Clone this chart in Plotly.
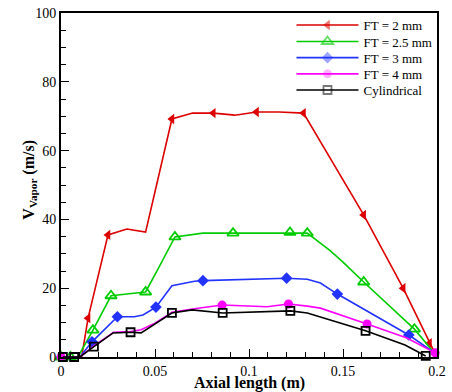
import plotly.graph_objects as go

# ---- data ----
names = ["FT = 2 mm", "FT = 2.5 mm", "FT = 3 mm", "FT = 4 mm", "Cylindrical"]

x_ft2 = [0, 0.005, 0.011, 0.0144, 0.025, 0.035, 0.045, 0.059, 0.070, 0.081, 0.0925, 0.104, 0.116, 0.129, 0.161, 0.182, 0.196, 0.199]
y_ft2 = [0, 0, 0, 11.3, 35.5, 37.2, 36.3, 69.2, 70.9, 70.9, 70.3, 71.2, 71.2, 70.9, 41.3, 20.0, 4.0, 1.0]
m_ft2 = [1, 0, 0, 1, 1, 0, 0, 1, 0, 1, 0, 1, 0, 1, 1, 1, 1, 0]

x_ft25 = [0, 0.005, 0.009, 0.017, 0.0266, 0.035, 0.045, 0.052, 0.0606, 0.0755, 0.0915, 0.1218, 0.131, 0.143, 0.150, 0.161, 0.188, 0.198]
y_ft25 = [0, 0, 0, 7.8, 17.8, 18.3, 18.9, 26.0, 34.9, 36.0, 36.0, 36.2, 36.0, 31.0, 27.6, 21.8, 8.1, 1.5]
m_ft25 = [1, 1, 0, 1, 1, 0, 1, 0, 1, 0, 1, 1, 1, 0, 0, 1, 1, 0]

x_ft3 = [0, 0.010, 0.0165, 0.030, 0.039, 0.0436, 0.0505, 0.059, 0.071, 0.0755, 0.120, 0.131, 0.138, 0.147, 0.185, 0.198]
y_ft3 = [0, 0, 4.4, 11.7, 11.7, 12.2, 14.5, 20.7, 22.0, 22.2, 22.9, 22.6, 21.5, 18.3, 6.4, 1.5]
m_ft3 = [0, 0, 1, 1, 0, 0, 1, 0, 0, 1, 1, 0, 0, 1, 1, 0]

x_ft4 = [0, 0.010, 0.0175, 0.028, 0.037, 0.0426, 0.050, 0.059, 0.069, 0.0857, 0.1096, 0.121, 0.131, 0.138, 0.1628, 0.184, 0.199]
y_ft4 = [0, 0, 3.2, 7.2, 7.4, 7.9, 9.8, 13.0, 13.9, 15.1, 14.6, 15.4, 14.8, 14.2, 9.6, 5.5, 1.2]
m_ft4 = [1, 0, 0, 0, 0, 0, 0, 0, 0, 1, 0, 1, 0, 0, 1, 0, 1]

x_cyl = [0.001, 0.007, 0.010, 0.0175, 0.0277, 0.037, 0.0426, 0.059, 0.0697, 0.086, 0.1096, 0.122, 0.131, 0.138, 0.162, 0.183, 0.194]
y_cyl = [0, 0, 0, 3.0, 7.0, 7.2, 7.0, 12.8, 13.7, 12.8, 13.1, 13.4, 12.8, 11.6, 7.6, 3.5, 0.3]
m_cyl = [1, 1, 0, 1, 0, 1, 0, 1, 0, 1, 0, 1, 0, 0, 1, 0, 1]

x_ticks = [0, 0.05, 0.1, 0.15, 0.2]
x_ticklabels = ["0", "0.05", "0.1", "0.15", "0.2"]
y_ticks = [0, 20, 40, 60, 80, 100]
x_title = "<b>Axial length (m)</b>"
y_title = "<b>V<sub>Vapor</sub> (m/s)</b>"

# ---- styles ----
series = [
    (x_ft2, y_ft2, m_ft2, "#dd0000", dict(symbol="triangle-left", size=9)),
    (x_ft25, y_ft25, m_ft25, "#00cc00", dict(symbol="triangle-up-open", size=10, line=dict(width=1.8))),
    (x_ft3, y_ft3, m_ft3, "#2233ff", dict(symbol="diamond", size=9)),
    (x_ft4, y_ft4, m_ft4, "#ff00ff", dict(symbol="circle", size=9)),
    (x_cyl, y_cyl, m_cyl, "#000000", dict(symbol="square-open", size=8, line=dict(width=1.8))),
]

FONT = "Liberation Serif"
legend_rows_y = [0.965, 0.917, 0.870, 0.823, 0.776]
legend_ids = ["legend", "legend2", "legend3", "legend4", "legend5"]

fig = go.Figure()
for name, (xs, ys, ms, col, mk), lid in zip(names, series, legend_ids):
    marker = dict(color=col, opacity=[1 if v else 0 for v in ms], **mk)
    fig.add_trace(go.Scatter(x=xs, y=ys, name=name, mode="lines+markers",
                             line=dict(color=col, width=1.6), marker=marker,
                             cliponaxis=False, legend=lid))

axis_common = dict(showline=True, linecolor="black", linewidth=2, mirror=True,
                   ticks="inside", ticklen=8, tickwidth=1.2, tickcolor="black",
                   showgrid=False, zeroline=False, automargin=False,
                   ticklabeloverflow="allow",
                   tickfont=dict(family=FONT, size=14, color="black"))

fig.update_xaxes(range=[0, 0.2], tickvals=x_ticks, ticktext=x_ticklabels,
                 minor=dict(dtick=0.01, ticks="inside", ticklen=5, tickcolor="black", tickwidth=1),
                 **axis_common)
fig.update_yaxes(range=[0, 100], tickvals=y_ticks,
                 minor=dict(dtick=5, ticks="inside", ticklen=5, tickcolor="black", tickwidth=1),
                 **axis_common)

fig.add_annotation(text=x_title, xref="paper", yref="paper", x=0.5, y=-0.077,
                   xanchor="center", yanchor="middle", showarrow=False,
                   font=dict(family=FONT, size=16, color="black"))
fig.add_annotation(text=y_title, xref="paper", yref="paper", x=-0.083, y=0.515,
                   xanchor="center", yanchor="middle", showarrow=False, textangle=-90,
                   font=dict(family=FONT, size=16, color="black"))

legend_common = dict(x=0.613, xanchor="left", yanchor="middle",
                     bgcolor="rgba(0,0,0,0)", borderwidth=0,
                     font=dict(family=FONT, size=13, color="black"),
                     itemwidth=62)
layout_legends = {lid: dict(y=ly, **legend_common) for lid, ly in zip(legend_ids, legend_rows_y)}

fig.update_layout(
    width=452, height=392,
    margin=dict(l=61, r=15, t=13, b=35, autoexpand=False),
    paper_bgcolor="white", plot_bgcolor="white",
    font=dict(family=FONT, color="black"),
    showlegend=True,
    **layout_legends,
)

# remove the default 8px page margin so the figure fills the window exactly
fig.write_html("out.html", config={"displayModeBar": False},
               post_script="document.body.style.margin='0';")
